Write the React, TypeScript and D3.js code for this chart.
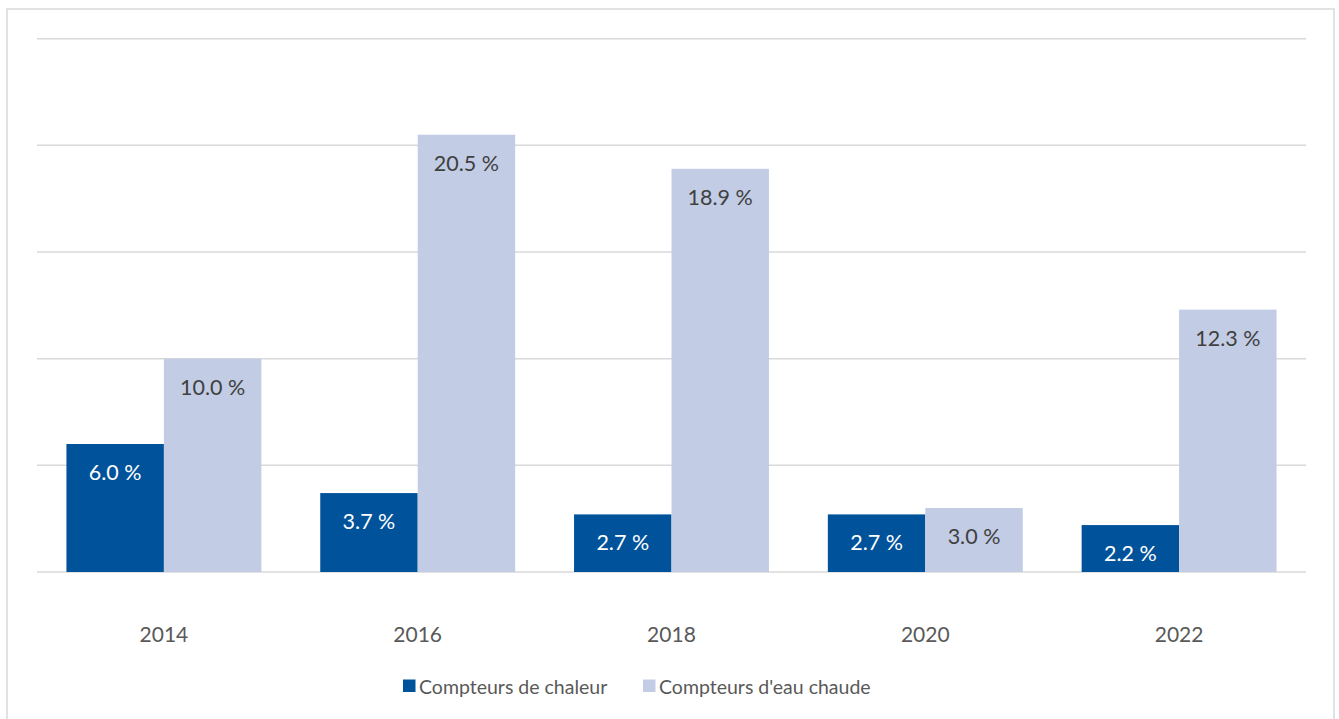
import React from "react";
import * as d3 from "d3";

const years = ["2014", "2016", "2018", "2020", "2022"];
const seriesNames = ["Compteurs de chaleur", "Compteurs d'eau chaude"];
const chaleur = [6.0, 3.7, 2.7, 2.7, 2.2];
const eauChaude = [10.0, 20.5, 18.9, 3.0, 12.3];
const yTicks = [0, 5, 10, 15, 20, 25];

const W = 1339;
const H = 719;
const colors = ["#00539B", "#C2CDE5"];
const labelColors = ["#FFFFFF", "#404040"];
const FONT = "Lato, 'Open Sans', sans-serif";

export default function App() {
  const x0 = d3.scaleBand<string>().domain(years).range([37, 1306]).paddingInner(0.232).paddingOuter(0.116);
  const x1 = d3.scaleBand<string>().domain(seriesNames).range([0, x0.bandwidth()]).padding(0);
  const y = d3.scaleLinear().domain([0, 25]).range([572, 38.7]);
  const fmt = (v: number) => d3.format(".1f")(v) + " %";
  const data = [chaleur, eauChaude];
  const legendX = [403, 643];

  return (
    <svg width={W} height={H} style={{ position: "absolute", left: 0, top: 0, background: "#fff" }} fontFamily={FONT}>
      <rect x={7} y={9} width={1327} height={H + 20} fill="#fff" stroke="#d9d9d9" strokeWidth={1.5} />
      {yTicks.map((t) => (
        <line key={t} x1={37} x2={1306} y1={y(t)} y2={y(t)} stroke="#d9d9d9" strokeWidth={1.5} />
      ))}
      {years.map((yr, i) => (
        <g key={yr} transform={`translate(${x0(yr)},0)`}>
          {seriesNames.map((s, si) => {
            const v = data[si][i];
            const bx = x1(s)!;
            return (
              <g key={s}>
                <rect x={bx} y={y(v)} width={x1.bandwidth()} height={y(0) - y(v)} fill={colors[si]} />
                <text
                  x={bx + x1.bandwidth() / 2}
                  y={y(v) + 28}
                  textAnchor="middle"
                  dominantBaseline="central"
                  fontSize={21.5}
                  fill={labelColors[si]}
                >
                  {fmt(v)}
                </text>
              </g>
            );
          })}
          <text x={x0.bandwidth() / 2} y={633} textAnchor="middle" dominantBaseline="central" fontSize={21} fill="#595959">
            {yr}
          </text>
        </g>
      ))}
      {seriesNames.map((s, si) => (
        <g key={s} transform={`translate(${legendX[si]},0)`}>
          <rect x={0} y={679.5} width={12.5} height={12.5} fill={colors[si]} />
          <text x={16} y={686} dominantBaseline="central" fontSize={19.5} fill="#595959">
            {s}
          </text>
        </g>
      ))}
    </svg>
  );
}
